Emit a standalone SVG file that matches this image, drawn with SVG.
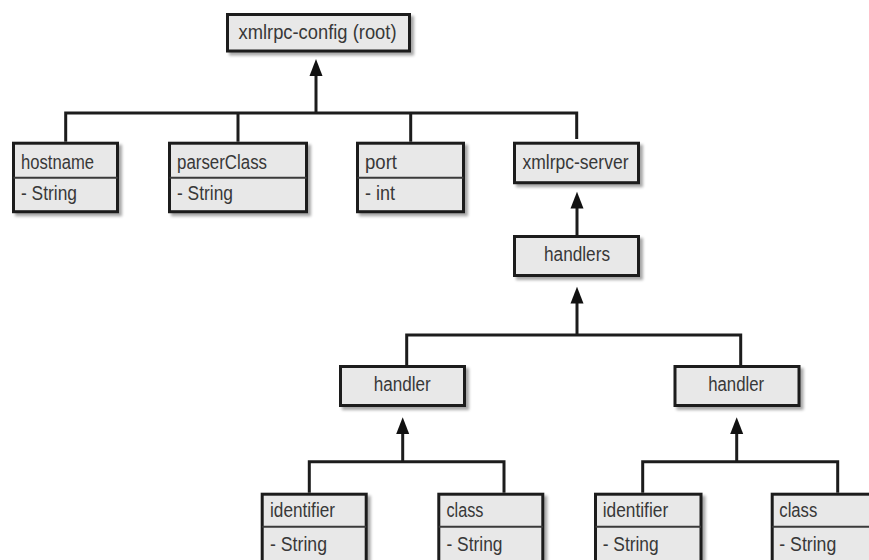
<svg xmlns="http://www.w3.org/2000/svg" width="869" height="560" viewBox="0 0 869 560">
  <defs>
    <filter id="shadow" x="-10%" y="-10%" width="130%" height="140%">
      <feGaussianBlur in="SourceAlpha" stdDeviation="1.6"/>
      <feOffset dx="3" dy="3" result="off"/>
      <feComponentTransfer><feFuncA type="linear" slope="0.35"/></feComponentTransfer>
      <feMerge><feMergeNode/><feMergeNode in="SourceGraphic"/></feMerge>
    </filter>
  </defs>
  <style>
    .box { fill: #e8e8e8; stroke: #1c1c1c; stroke-width: 3; filter: url(#shadow); }
    .div { stroke: #3a3a3a; stroke-width: 2; }
    .lbl { font-family: "Liberation Sans", Arial, sans-serif; font-size: 20px; fill: #383838; }
    .mid { text-anchor: middle; }
    .wire { fill: none; stroke: #1c1c1c; stroke-width: 3; stroke-linejoin: miter; }
    .head { fill: #111; }
  </style>
  <rect width="869" height="560" fill="#fff"/>

  <!-- tree connectors -->
  <g id="connectors">
    <!-- root level -->
    <path class="wire" d="M65.7 141.7 V113 H576.7 V139 M238 113 V141.7 M410.7 113 V141.7"/>
    <line class="wire" x1="316" y1="113" x2="316" y2="75"/>
    <path class="head" d="M316 59 L322.5 76 L309.5 76 Z"/>
    <!-- handlers to xmlrpc-server -->
    <line class="wire" x1="577" y1="235" x2="577" y2="207"/>
    <path class="head" d="M577 191.7 L583.5 208.5 L570.5 208.5 Z"/>
    <!-- handler nodes to handlers -->
    <path class="wire" d="M406.7 365 V335 H740.7 V365"/>
    <line class="wire" x1="577" y1="335" x2="577" y2="302"/>
    <path class="head" d="M577 286.7 L583.5 303.5 L570.5 303.5 Z"/>
    <!-- left handler children -->
    <path class="wire" d="M309.3 492.7 V461.7 H504 V492.7"/>
    <line class="wire" x1="402.7" y1="461.7" x2="402.7" y2="432"/>
    <path class="head" d="M402.7 417.3 L409.2 434 L396.2 434 Z"/>
    <!-- right handler children -->
    <path class="wire" d="M642.7 492.7 V461.7 H837.7 V492.7"/>
    <line class="wire" x1="736.7" y1="461.7" x2="736.7" y2="432"/>
    <path class="head" d="M736.7 417.3 L743.2 434 L730.2 434 Z"/>
  </g>

  <g id="root">
    <rect class="box" x="227.5" y="14.5" width="182" height="36.5"/>
    <text class="lbl mid" x="317.5" y="39" textLength="158" lengthAdjust="spacingAndGlyphs">xmlrpc-config (root)</text>
  </g>

  <g id="hostname">
    <rect class="box" x="13.5" y="143.2" width="104" height="68.5"/>
    <line class="div" x1="13.5" y1="177.7" x2="117.5" y2="177.7"/>
    <text class="lbl" x="21" y="168.5" textLength="73" lengthAdjust="spacingAndGlyphs">hostname</text>
    <text class="lbl" x="21" y="200" textLength="56" lengthAdjust="spacingAndGlyphs">- String</text>
  </g>

  <g id="parserClass">
    <rect class="box" x="169.5" y="143.2" width="137" height="68.5"/>
    <line class="div" x1="169.5" y1="177.7" x2="306.5" y2="177.7"/>
    <text class="lbl" x="177" y="168.5" textLength="90" lengthAdjust="spacingAndGlyphs">parserClass</text>
    <text class="lbl" x="177" y="200" textLength="56" lengthAdjust="spacingAndGlyphs">- String</text>
  </g>

  <g id="port">
    <rect class="box" x="357.5" y="143.2" width="106" height="68.5"/>
    <line class="div" x1="357.5" y1="177.7" x2="463.5" y2="177.7"/>
    <text class="lbl" x="365" y="168.5" textLength="32" lengthAdjust="spacingAndGlyphs">port</text>
    <text class="lbl" x="365" y="200" textLength="30" lengthAdjust="spacingAndGlyphs">- int</text>
  </g>

  <g id="xmlrpc-server">
    <rect class="box" x="514.5" y="143.2" width="124" height="39.5"/>
    <text class="lbl mid" x="575.5" y="168.8" textLength="106" lengthAdjust="spacingAndGlyphs">xmlrpc-server</text>
  </g>

  <g id="handlers">
    <rect class="box" x="514.5" y="236.5" width="124" height="39"/>
    <text class="lbl mid" x="577" y="260.5" textLength="66" lengthAdjust="spacingAndGlyphs">handlers</text>
  </g>

  <g id="handler-1">
    <rect class="box" x="340.5" y="366.5" width="124" height="39"/>
    <text class="lbl mid" x="402.3" y="390.5" textLength="57" lengthAdjust="spacingAndGlyphs">handler</text>
  </g>

  <g id="handler-2">
    <rect class="box" x="675" y="366.5" width="124" height="39"/>
    <text class="lbl mid" x="736.2" y="390.5" textLength="56" lengthAdjust="spacingAndGlyphs">handler</text>
  </g>

  <g id="identifier-1">
    <rect class="box" x="262.2" y="494.2" width="104" height="69"/>
    <line class="div" x1="262.2" y1="526.7" x2="366.2" y2="526.7"/>
    <text class="lbl" x="270" y="517" textLength="65" lengthAdjust="spacingAndGlyphs">identifier</text>
    <text class="lbl" x="270" y="550.5" textLength="57" lengthAdjust="spacingAndGlyphs">- String</text>
  </g>

  <g id="class-1">
    <rect class="box" x="438.8" y="494.2" width="104" height="69"/>
    <line class="div" x1="438.8" y1="526.7" x2="542.8" y2="526.7"/>
    <text class="lbl" x="446.5" y="517" textLength="37" lengthAdjust="spacingAndGlyphs">class</text>
    <text class="lbl" x="446.5" y="550.5" textLength="56" lengthAdjust="spacingAndGlyphs">- String</text>
  </g>

  <g id="identifier-2">
    <rect class="box" x="595.5" y="494.2" width="105.5" height="69"/>
    <line class="div" x1="595.5" y1="526.7" x2="701" y2="526.7"/>
    <text class="lbl" x="602.7" y="517" textLength="65.5" lengthAdjust="spacingAndGlyphs">identifier</text>
    <text class="lbl" x="602.7" y="550.5" textLength="56" lengthAdjust="spacingAndGlyphs">- String</text>
  </g>

  <g id="class-2">
    <rect class="box" x="772.2" y="494.2" width="104" height="69"/>
    <line class="div" x1="772.2" y1="526.7" x2="876.2" y2="526.7"/>
    <text class="lbl" x="779.3" y="517" textLength="38" lengthAdjust="spacingAndGlyphs">class</text>
    <text class="lbl" x="779.3" y="550.5" textLength="57" lengthAdjust="spacingAndGlyphs">- String</text>
  </g>
</svg>
